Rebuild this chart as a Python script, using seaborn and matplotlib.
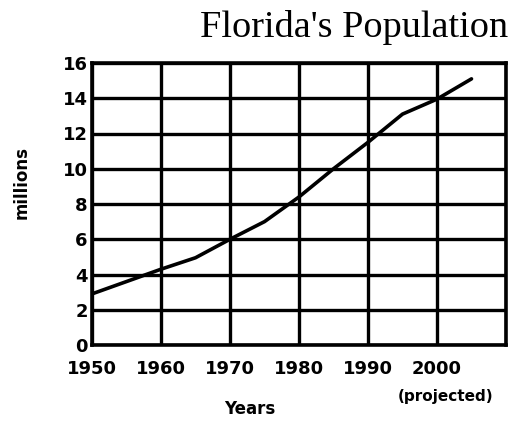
import matplotlib
matplotlib.use("Agg")
import matplotlib.pyplot as plt
import seaborn as sns
import pandas as pd

years = [1950, 1955, 1960, 1965, 1970, 1975, 1980, 1985, 1990, 1995, 2000, 2005]
millions = [2.9, 3.6, 4.3, 4.95, 6.0, 7.0, 8.4, 10.0, 11.5, 13.1, 13.95, 15.1]
x_ticks = [1950, 1960, 1970, 1980, 1990, 2000]
y_ticks = [0, 2, 4, 6, 8, 10, 12, 14, 16]

df = pd.DataFrame({"Years": years, "millions": millions})

sns.set_style("white")
plt.rcParams['font.family'] = ['DejaVu Sans']
plt.rcParams['text.color'] = 'black'
plt.rcParams['xtick.color'] = 'black'
plt.rcParams['ytick.color'] = 'black'
plt.rcParams['axes.labelcolor'] = 'black'

fig = plt.figure(figsize=(5.08, 4.21), dpi=100)
ax = fig.add_axes([92/508, 1 - 345/421, 414/508, 282/421])

ax.set_xlim(1950, 2010)
ax.set_ylim(0, 16)
ax.set_xticks(x_ticks + [2010])
ax.set_xticklabels([str(t) for t in x_ticks] + [""])
ax.set_yticks(y_ticks)
ax.set_yticklabels([str(t) for t in y_ticks])
ax.grid(True, color="black", linewidth=2.4)
ax.set_axisbelow(True)
for s in ax.spines.values():
    s.set_color("black")
    s.set_linewidth(2.6)
ax.tick_params(axis="both", length=0, labelsize=13)
ax.tick_params(axis="x", pad=11)
ax.tick_params(axis="y", pad=3)
for lab in ax.get_xticklabels() + ax.get_yticklabels():
    lab.set_fontweight("bold")

sns.lineplot(data=df, x="Years", y="millions", color="black", linewidth=2.6, ax=ax)

ax.set_xlabel("Years", fontsize=12, fontweight="bold", va="center")
ax.set_ylabel("millions", fontsize=12, fontweight="bold", va="center")
ax.xaxis.set_label_coords((250 - 92) / 414, (345 - 409) / 282)
ax.yaxis.set_label_coords((22 - 92) / 414, (345 - 183) / 282)

ax.text((446 - 92) / 414, (345 - 397) / 282, "(projected)", transform=ax.transAxes,
        ha="center", va="center", fontsize=11, fontweight="bold")

fig.text(200 / 508, 1 - 37 / 421, "Florida's Population", family=["Liberation Serif"],
         fontsize=27.5, ha="left", va="baseline", color="black")

fig.savefig("out.png", dpi=100)
